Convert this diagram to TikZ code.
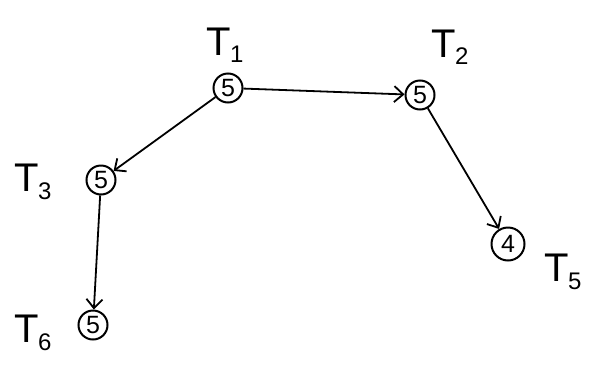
\documentclass[tikz,border=0pt]{standalone}
\usepackage{fontspec}
\setmainfont{Liberation Sans}
\usetikzlibrary{positioning,arrows.meta}
\newcommand{\tname}[1]{T\kern-1pt\raisebox{-0.35ex}{\fontsize{24}{24}\selectfont #1}}

\begin{document}
\begin{tikzpicture}[
  x=1pt,y=-1pt,
  task/.style={draw,circle,line width=2pt,minimum size=29pt,inner sep=0pt,font=\fontsize{25}{26}\selectfont},
  lab/.style={font=\fontsize{40}{42}\selectfont},
  arr/.style={-{Straight Barb[length=9pt,width=16pt]},line width=1.8pt}
]
\useasboundingbox (0,0) rectangle (601,370);
% tasks with durations
\node[task] (t1) at (228,88) {5};
\node[task] (t2) at (420,95) {5};
\node[task] (t3) at (101,180) {5};
\node[task,minimum size=33pt] (t5) at (508,244) {4};
\node[task] (t6) at (93,325) {5};
% names
\node[lab] (l1) at (225,45) {\tname{1}};
\node[lab] (l2) at (450,47) {\tname{2}};
\node[lab] (l3) at (33,182) {\tname{3}};
\node[lab] (l5) at (563,272) {\tname{5}};
\node[lab] (l6) at (33,333) {\tname{6}};
\draw[arr] (t1) -- (t2);
\draw[arr] (t1) -- (t3);
\draw[arr] (t2) -- (t5);
\draw[arr] (t3) -- (t6);
\end{tikzpicture}
\end{document}
